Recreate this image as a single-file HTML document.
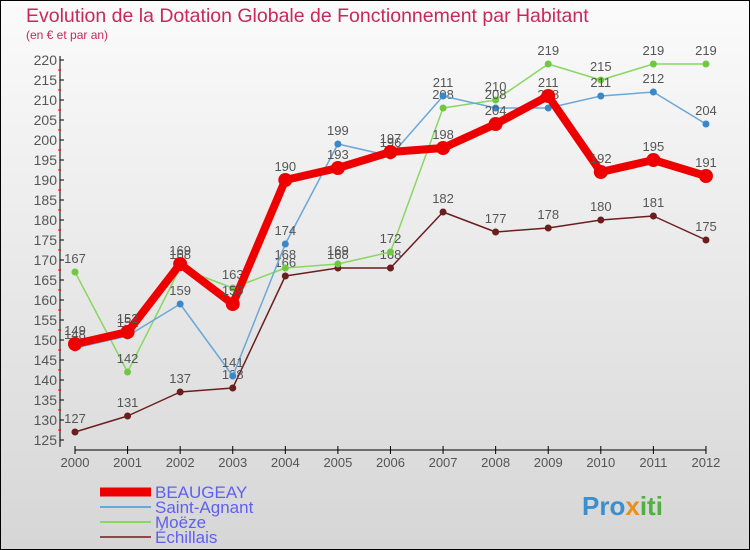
<!DOCTYPE html>
<html><head><meta charset="utf-8"><style>
body{margin:0;width:750px;height:550px;overflow:hidden}
svg{display:block;font-family:"Liberation Sans",sans-serif}
</style></head><body>
<svg id="c" width="750" height="550">
<defs><linearGradient id="bg" x1="0" y1="0" x2="0" y2="1"><stop offset="0" stop-color="#fbfbfb"/><stop offset="1" stop-color="#d6d6d6"/></linearGradient></defs>
<rect x="0.5" y="0.5" width="749" height="549" fill="url(#bg)" stroke="#000"/>
<text x="26" y="22" font-size="19.5" fill="#c8285a">Evolution de la Dotation Globale de Fonctionnement par Habitant</text>
<text x="26" y="39" font-size="12" fill="#c8285a">(en € et par an)</text>
<g id="axes"></g><g id="series"></g><g id="legend"></g>
<text x="582" y="515" font-size="26" font-weight="bold" fill="#3a8fd0">Pro<tspan fill="#e89020">x</tspan><tspan fill="#50b040">iti</tspan></text>
</svg>
<script>
const years=[2000,2001,2002,2003,2004,2005,2006,2007,2008,2009,2010,2011,2012];
const beaugeay=[149,152,169,159,190,193,197,198,204,211,192,195,191];
const saintAgnant=[148,151,159,141,174,199,196,211,208,208,211,212,204];
const moeze=[167,142,168,163,168,169,172,208,210,219,215,219,219];
const echillais=[127,131,137,138,166,168,168,182,177,178,180,181,175];
const yTicks=[125,130,135,140,145,150,155,160,165,170,175,180,185,190,195,200,205,210,215,220];
const NS='http://www.w3.org/2000/svg';
const xs=i=>75+i*52.58;
const ys=v=>440-(v-125)*4;
function mk(tag,attrs,parent){const e=document.createElementNS(NS,tag);for(const k in attrs)e.setAttribute(k,attrs[k]);parent.appendChild(e);return e;}
const ax=document.getElementById('axes');
let l=mk('line',{x1:60,y1:56,x2:60,y2:447,stroke:'#000'},ax);


l=mk('line',{x1:75,y1:450,x2:706,y2:450,stroke:'#000'},ax);


yTicks.forEach(v=>{
 mk('line',{x1:60,y1:ys(v),x2:64,y2:ys(v),stroke:'#000'},ax);
 if(v<220)mk('line',{x1:58,y1:ys(v+2.5),x2:61,y2:ys(v+2.5),stroke:'#f00'},ax);
 const t=mk('text',{x:57,y:ys(v)+5,'font-size':14,fill:'#555','text-anchor':'end'},ax);
 t.textContent=v;
 
 
});
years.forEach((y,i)=>{
 mk('line',{x1:xs(i),y1:446,x2:xs(i),y2:454,stroke:'#000'},ax);
 const t=mk('text',{x:xs(i),y:467,'font-size':13,fill:'#555','text-anchor':'middle'},ax);
 t.textContent=y;
 
 
});
const series=[
 {name:'Échillais',data:echillais,color:'#6b1e1e',w:1.5,r:3.5},
 {name:'Moëze',data:moeze,color:'#88d860',w:1.5,r:3.5,fill:'#70c840'},
 {name:'Saint-Agnant',data:saintAgnant,color:'#6aa8d8',w:1.5,r:3.5,fill:'#3a88c8'},
 {name:'BEAUGEAY',data:beaugeay,color:'#ee0000',w:8,r:7}
];
const sg=document.getElementById('series');
series.forEach(s=>{
 const g=mk('g',{},sg);
 
 
 const p=mk('polyline',{points:s.data.map((v,i)=>xs(i)+','+ys(v)).join(' '),fill:'none',stroke:s.color,'stroke-width':s.w,'stroke-linejoin':'round'},g);
 
 
 s.data.forEach((v,i)=>{
  const c=mk('circle',{cx:xs(i),cy:ys(v),r:s.r,fill:s.fill||s.color},g);
  
  
  const t=mk('text',{x:xs(i),y:ys(v)-9,'font-size':13,fill:'#555','text-anchor':'middle'},g);
  t.textContent=v;
  
  
 });
});
const lg=document.getElementById('legend');
[['BEAUGEAY','#ee0000',9],['Saint-Agnant','#6aa8d8',2],['Moëze','#88d860',2],['Échillais','#8b4a4a',2]].forEach((e,i)=>{
 const y=492+i*15;
 const g=mk('g',{},lg);
 
 
 mk('line',{x1:100,y1:y,x2:151,y2:y,stroke:e[1],'stroke-width':e[2]},g);
 const t=mk('text',{x:155,y:y+6,'font-size':17,fill:'#6060f0'},g);
 t.textContent=e[0];
});
</script>
</body></html>
